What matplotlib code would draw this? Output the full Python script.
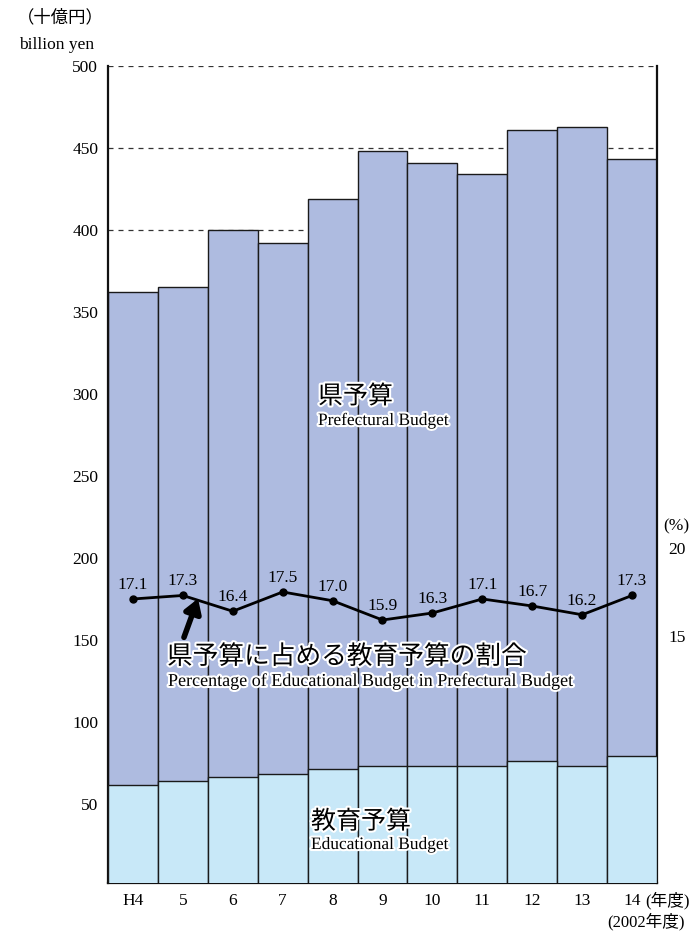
import matplotlib
matplotlib.use("Agg")
import matplotlib.pyplot as plt
import matplotlib.patheffects as pe

plt.rcParams['font.family'] = ['Liberation Serif', 'Noto Sans CJK JP', 'DejaVu Sans']

categories = ["H4", "5", "6", "7", "8", "9", "10", "11", "12", "13", "14"]
prefectural = [362, 365, 400, 392, 419, 448, 441, 434, 461, 463, 443]
educational = [61, 64, 66, 68, 71, 73, 73, 73, 76, 73, 79]
ratio = [17.1, 17.3, 16.4, 17.5, 17.0, 15.9, 16.3, 17.1, 16.7, 16.2, 17.3]
left_ticks = [50, 100, 150, 200, 250, 300, 350, 400, 450, 500]
right_ticks = [15, 20]

fig = plt.figure(figsize=(6.96, 9.35), dpi=100)
ax = fig.add_axes([108/696, 1-883/935, (657-108)/696, (883-66)/935])
x = list(range(len(categories)))

ax.bar(x, prefectural, width=1.0, color="#aebbe0", edgecolor="#1a1a1a", linewidth=1.0, zorder=2)
ax.bar(x, educational, width=1.0, color="#c8e8f8", edgecolor="#1a1a1a", linewidth=1.0, zorder=3)
ax.set_xlim(-0.5, len(categories) - 0.5)
ax.set_ylim(1.5, 500)
ax.set_yticks(left_ticks)
ax.set_yticklabels([str(t) for t in left_ticks], fontsize=12.5)
for t in left_ticks:
    ax.axhline(t, color="#333333", linestyle=(0, (4, 4)), linewidth=0.9, zorder=1)
ax.set_xticks(x)
ax.set_xticklabels(categories, fontsize=12.5)
ax.tick_params(axis='x', length=0, pad=7)
ax.tick_params(axis='y', length=0, pad=7)
ax.spines['top'].set_visible(False)
for s in ['left', 'right', 'bottom']:
    ax.spines[s].set_linewidth(1.6)
    ax.spines[s].set_color("#111111")

ax2 = ax.twinx()
ax2.set_ylim(0.9, 47.5)
ax2.plot(x, ratio, color="black", linewidth=2.0, marker='o', markersize=5, zorder=5)
for xi, r in zip(x, ratio):
    ax2.text(xi, r + 0.35, f"{r:.1f}", ha='center', va='bottom', fontsize=12.5, zorder=6)
ax2.set_yticks(right_ticks)
ax2.set_yticklabels([str(t) for t in right_ticks], fontsize=12.5)
ax2.tick_params(axis='y', length=0, pad=8)
for s in ['left', 'right', 'bottom', 'top']:
    ax2.spines[s].set_visible(False)

halo = [pe.withStroke(linewidth=3, foreground='white')]

fig.text(60/696, 1-18/935, "（十億円）", ha='center', va='center', fontsize=12.5)
fig.text(57/696, 1-45/935, "billion yen", ha='center', va='center', fontsize=12.5)
fig.text(676/696, 1-526/935, "(%)", ha='center', va='center', fontsize=12.5)
fig.text(645/696, 1-901/935, "(年度)", ha='left', va='center', fontsize=12)
fig.text(646/696, 1-922/935, "(2002年度)", ha='center', va='center', fontsize=12)

fig.text(318/696, 1-397/935, "県予算", ha='left', va='center', fontsize=18, path_effects=halo, zorder=10)
fig.text(318/696, 1-421/935, "Prefectural Budget", ha='left', va='center', fontsize=12.5, path_effects=halo, zorder=10)
fig.text(311/696, 1-822/935, "教育予算", ha='left', va='center', fontsize=18, path_effects=halo, zorder=10)
fig.text(311/696, 1-845/935, "Educational Budget", ha='left', va='center', fontsize=12.5, path_effects=halo, zorder=10)
fig.text(167/696, 1-657/935, "県予算に占める教育予算の割合", ha='left', va='center', fontsize=18.5, path_effects=halo, zorder=10)
fig.text(168/696, 1-681/935, "Percentage of Educational Budget in Prefectural Budget", ha='left', va='center', fontsize=13, path_effects=halo, zorder=10)

fig.add_artist(matplotlib.patches.FancyArrowPatch(
    (183/696, 1-640/935), (199/696, 1-596/935), transform=fig.transFigure,
    arrowstyle='-|>,head_length=8,head_width=5', linewidth=4, color='black',
    mutation_scale=1, zorder=10))

fig.savefig("out.png", dpi=100)
